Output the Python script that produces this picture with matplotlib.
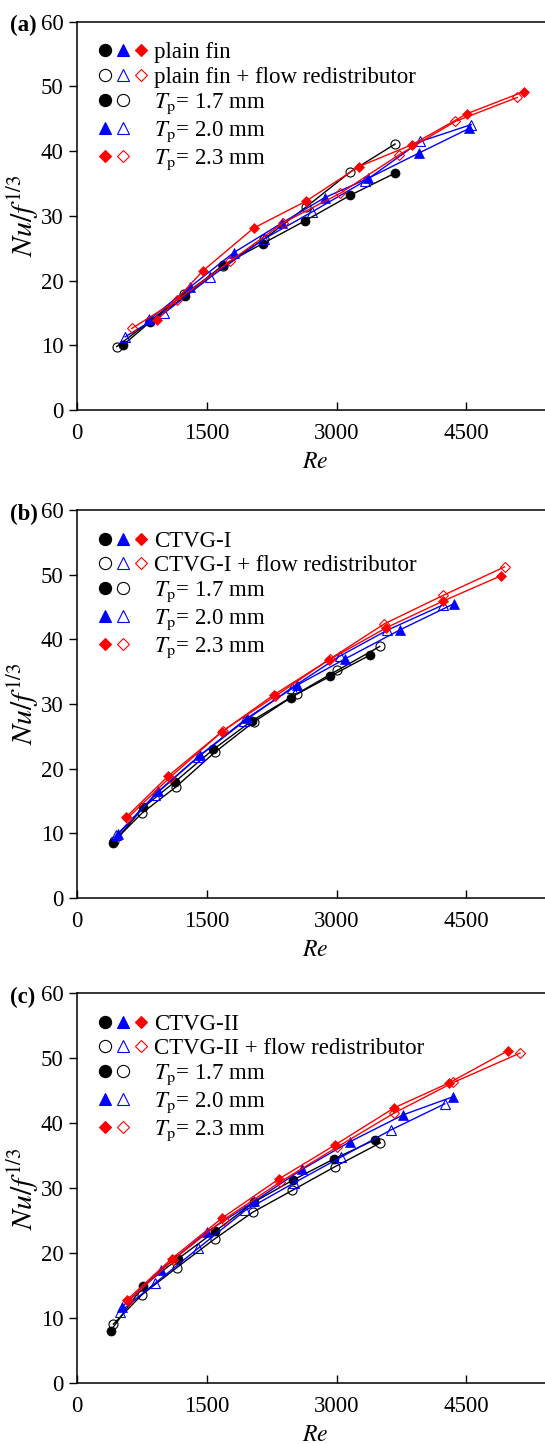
"""Nu/f^(1/3) vs Re for three fin types, with and without flow redistributor."""

import matplotlib

matplotlib.use("Agg")
import matplotlib.pyplot as plt
from matplotlib.lines import Line2D
from matplotlib.legend_handler import HandlerTuple

plt.rcParams["font.family"] = ["Liberation Serif", "DejaVu Serif"]
plt.rcParams["mathtext.fontset"] = "stix"

# --- data ---------------------------------------------------------------
# (a) plain fin
A_RE_17 = [529, 845, 1250, 1686, 2144, 2630, 3160, 3675]
A_NU_17 = [10.0, 13.6, 17.6, 22.4, 25.7, 29.2, 33.2, 36.6]
A_RE_17R = [459, 840, 1240, 1686, 2160, 2650, 3160, 3675]
A_NU_17R = [9.8, 13.7, 17.9, 22.2, 26.4, 31.4, 36.8, 41.1]
A_RE_20 = [837, 1307, 1809, 2368, 2860, 3365, 3950, 4530]
A_NU_20 = [14.0, 19.0, 24.3, 28.9, 32.8, 35.8, 39.7, 43.5]
A_RE_20R = [555, 1010, 1539, 2156, 2715, 3330, 3968, 4555]
A_NU_20R = [11.3, 15.0, 20.5, 26.4, 30.6, 35.4, 41.5, 44.1]
A_RE_23 = [929, 1454, 2040, 2650, 3255, 3872, 4509, 5164]
A_NU_23 = [13.9, 21.5, 28.1, 32.3, 37.6, 41.0, 45.8, 49.2]
A_RE_23R = [633, 1161, 1770, 2380, 3043, 3718, 4373, 5087]
A_NU_23R = [12.6, 17.0, 23.0, 28.9, 33.5, 39.4, 44.6, 48.3]

# (b) CTVG-I
B_RE_17 = [420, 765, 1134, 1577, 2021, 2468, 2927, 3390]
B_NU_17 = [8.5, 14.0, 18.0, 23.0, 27.4, 31.0, 34.3, 37.6]
B_RE_17R = [430, 748, 1145, 1589, 2040, 2542, 3008, 3498]
B_NU_17R = [8.8, 13.1, 17.2, 22.5, 27.2, 31.6, 35.2, 38.9]
B_RE_20 = [478, 940, 1423, 1963, 2542, 3101, 3737, 4354]
B_NU_20 = [9.9, 16.5, 22.1, 27.8, 32.9, 37.0, 41.5, 45.5]
B_RE_20R = [455, 905, 1400, 1930, 2480, 3035, 3583, 4227]
B_NU_20R = [9.7, 16.0, 21.8, 27.3, 32.5, 37.4, 41.4, 45.3]
B_RE_23 = [567, 1057, 1674, 2272, 2908, 3575, 4227, 4894]
B_NU_23 = [12.5, 18.9, 25.7, 31.4, 36.8, 41.8, 45.9, 49.8]
B_RE_23R = [580, 1070, 1690, 2290, 2927, 3552, 4231, 4940]
B_NU_23R = [12.3, 18.6, 25.9, 31.2, 37.0, 42.4, 46.8, 51.2]

# (c) CTVG-II
C_RE_17 = [390, 760, 1172, 1597, 2048, 2500, 2966, 3448]
C_NU_17 = [8.1, 14.9, 19.2, 23.4, 27.9, 31.3, 34.5, 37.5]
C_RE_17R = [420, 748, 1153, 1589, 2028, 2490, 2977, 3506]
C_NU_17R = [9.1, 13.6, 17.8, 22.2, 26.3, 29.7, 33.3, 37.0]
C_RE_20 = [517, 972, 1500, 2050, 2600, 3159, 3768, 4347]
C_NU_20 = [11.7, 17.5, 23.3, 28.0, 32.9, 37.2, 41.3, 44.1]
C_RE_20R = [498, 902, 1403, 1944, 2503, 3051, 3630, 4250]
C_NU_20R = [11.0, 15.4, 20.8, 26.6, 30.8, 34.8, 39.0, 43.0]
C_RE_23 = [575, 1096, 1674, 2329, 2985, 3668, 4296, 4983]
C_NU_23 = [12.8, 19.2, 25.4, 31.4, 36.7, 42.4, 46.2, 51.2]
C_RE_23R = [590, 1110, 1700, 2350, 3000, 3668, 4350, 5118]
C_NU_23R = [12.6, 19.0, 25.2, 31.0, 36.3, 41.6, 46.3, 50.8]

PANELS = [
    ("(a)", "plain fin",
     [(A_RE_17, A_NU_17), (A_RE_20, A_NU_20), (A_RE_23, A_NU_23)],
     [(A_RE_17R, A_NU_17R), (A_RE_20R, A_NU_20R), (A_RE_23R, A_NU_23R)]),
    ("(b)", "CTVG-I",
     [(B_RE_17, B_NU_17), (B_RE_20, B_NU_20), (B_RE_23, B_NU_23)],
     [(B_RE_17R, B_NU_17R), (B_RE_20R, B_NU_20R), (B_RE_23R, B_NU_23R)]),
    ("(c)", "CTVG-II",
     [(C_RE_17, C_NU_17), (C_RE_20, C_NU_20), (C_RE_23, C_NU_23)],
     [(C_RE_17R, C_NU_17R), (C_RE_20R, C_NU_20R), (C_RE_23R, C_NU_23R)]),
]

TP_LABELS = ["1.7", "2.0", "2.3"]
COLORS = ["black", "#0000ff", "#ff0000"]
MARKERS = ["o", "^", "D"]
MSIZE = [6.5, 6.5, 4.8]

X_TICKS = [0, 1500, 3000, 4500]
Y_TICKS = [0, 10, 20, 30, 40, 50, 60]

# axes boxes in pixels (top, bottom) of a 545 x 1444 canvas
W, H = 545, 1444
AX_L, AX_R = 77, 553
AX_BOX = [(21.7, 410), (510, 898), (993.3, 1383.3)]
FS = 16.5


def marker_handle(i, filled, scale=1.35):
    return Line2D([], [], linestyle="none", marker=MARKERS[i],
                  markersize=MSIZE[i] * scale, color=COLORS[i],
                  markerfacecolor=COLORS[i] if filled else "none",
                  markeredgewidth=0.8)


fig = plt.figure(figsize=(W / 100, H / 100), dpi=100)

for (tag, name, plain, redis), (top, bot) in zip(PANELS, AX_BOX):
    ax_h = bot - top
    ax = fig.add_axes([AX_L / W, 1 - bot / H, (AX_R - AX_L) / W, ax_h / H])
    for i in range(3):
        for (re, nu), filled in ((plain[i], True), (redis[i], False)):
            ax.plot(re, nu, color=COLORS[i], linewidth=1.0,
                    marker=MARKERS[i], markersize=MSIZE[i],
                    markerfacecolor=COLORS[i] if filled else "none",
                    markeredgewidth=0.8 if not filled else 0.5)

    ax.set_xlim(0, 5500)
    ax.set_ylim(0, 60)
    ax.set_xticks(X_TICKS)
    ax.set_yticks(Y_TICKS)
    ax.tick_params(axis="x", direction="in", length=5.5, width=1.0,
                   labelsize=FS, pad=9.5)
    ax.tick_params(axis="y", direction="out", length=6, width=1.0,
                   labelsize=FS, pad=3.5)
    for sp in ax.spines.values():
        sp.set_linewidth(1.1)
    ax.set_xlabel("$Re$", fontsize=FS + 0.5)
    ax.xaxis.set_label_coords(0.5, -42 / ax_h)
    ax.set_ylabel("$Nu/f^{1/3}$", fontsize=21.5)
    ax.yaxis.set_label_coords(-36 / (AX_R - AX_L), 0.5)

    blank = Line2D([], [], linestyle="none", marker="none")
    handles = [
        (marker_handle(0, True), marker_handle(1, True), marker_handle(2, True)),
        (marker_handle(0, False), marker_handle(1, False), marker_handle(2, False)),
        (marker_handle(0, True), marker_handle(0, False), blank),
        (marker_handle(1, True), marker_handle(1, False), blank),
        (marker_handle(2, True), marker_handle(2, False), blank),
    ]
    labels = [name, f"{name} + flow redistributor"] + [
        r"$T_\mathrm{p}$= " + tp + " mm" for tp in TP_LABELS]
    ax.legend(handles, labels, handler_map={tuple: HandlerTuple(ndivide=None, pad=0)},
              loc="upper left", bbox_to_anchor=(19 / (AX_R - AX_L), 0.947),
              frameon=False, fontsize=FS, borderpad=0, borderaxespad=0,
              handlelength=2.35, handletextpad=0.2, labelspacing=0.15)

    fig.text(10 / W, 1 - (top + 4) / H, tag, fontsize=FS, fontweight="bold",
             ha="left", va="center")

fig.savefig("out.png", dpi=100)
